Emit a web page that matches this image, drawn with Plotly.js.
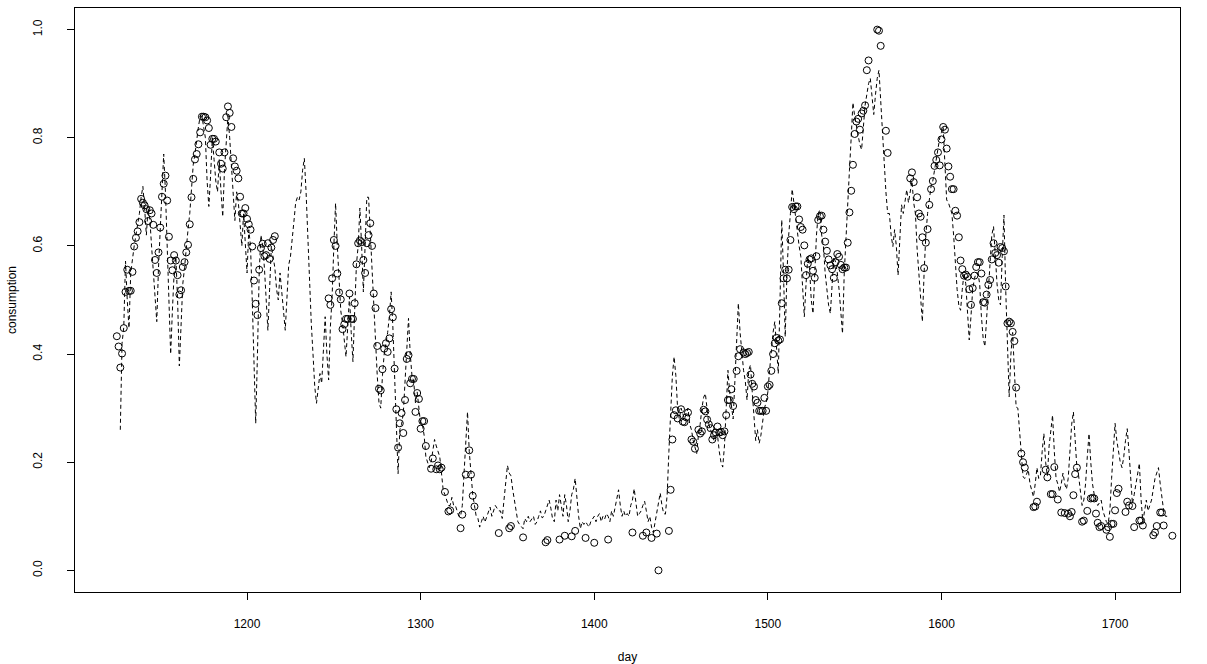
<!DOCTYPE html>
<html>
<head>
<meta charset="utf-8">
<script src="https://cdn.plot.ly/plotly-3.0.1.min.js"></script>
<style>
  html, body { margin: 0; padding: 0; background: #ffffff; }
  #chart { width: 1207px; height: 664px; }
</style>
</head>
<body>
<div id="chart"></div>
<script>
// Observed daily consumption (open circles)
const obsDay = [
  1125, 1126, 1127, 1128, 1129, 1130, 1131, 1132, 1133, 1134, 1135, 1136, 1137, 1138, 1139,
  1140, 1141, 1142, 1143, 1144, 1145, 1146, 1147, 1148, 1149, 1150, 1151, 1152, 1153, 1154,
  1155, 1156, 1157, 1158, 1159, 1160, 1161, 1162, 1163, 1164, 1165, 1166, 1167, 1168, 1169,
  1170, 1171, 1172, 1173, 1174, 1175, 1176, 1177, 1178, 1179, 1180, 1181, 1182, 1184, 1185,
  1186, 1187, 1188, 1189, 1190, 1191, 1192, 1193, 1194, 1195, 1196, 1197, 1198, 1199, 1200,
  1201, 1202, 1203, 1204, 1205, 1206, 1207, 1208, 1209, 1210, 1211, 1212, 1213, 1214, 1215,
  1216,
  1247, 1248, 1249, 1250, 1251, 1252, 1253, 1254, 1255, 1256, 1257, 1258, 1259, 1260, 1261,
  1262, 1263, 1264, 1265, 1266, 1267, 1268, 1269, 1270, 1271, 1272, 1273, 1274, 1275, 1276,
  1277, 1278, 1279, 1280, 1281, 1282, 1283, 1284, 1285, 1286, 1287, 1288, 1289, 1290, 1291,
  1292, 1293, 1294, 1295, 1296, 1297, 1298, 1299, 1300, 1301, 1302, 1303, 1306, 1307, 1309,
  1310, 1311, 1312, 1314, 1316, 1317, 1323, 1324, 1326, 1328, 1329, 1330, 1331,
  1345, 1351, 1352, 1359, 1372, 1373, 1380, 1383, 1387, 1389, 1395, 1400, 1408,
  1422, 1428, 1430, 1433, 1436, 1437, 1443, 1444, 1445, 1446, 1447, 1448, 1450, 1451, 1452,
  1453, 1454, 1456, 1457, 1458, 1460, 1461, 1462, 1463, 1464, 1465, 1466, 1467, 1468, 1469,
  1470, 1471, 1472, 1473, 1474, 1475, 1476, 1477, 1478, 1479, 1480, 1482, 1483, 1484, 1486,
  1487, 1488, 1489, 1490, 1491, 1492, 1493, 1494, 1495, 1496, 1497, 1498, 1499, 1500, 1501,
  1502, 1503, 1504, 1505, 1506, 1507, 1508, 1509, 1510, 1511, 1512, 1513, 1514, 1515, 1516,
  1517, 1518, 1519, 1520, 1521, 1522, 1523, 1524, 1525, 1526, 1527, 1528, 1529, 1530, 1531,
  1532, 1533, 1534, 1535, 1536, 1537, 1538, 1539, 1540, 1541, 1542, 1543, 1544, 1545, 1546,
  1547, 1548, 1549, 1550, 1551, 1552, 1553, 1554, 1555, 1556, 1557, 1558, 1563, 1564, 1565,
  1568, 1569,
  1582, 1583, 1584, 1586, 1587, 1588, 1589, 1590, 1591, 1592, 1593, 1594, 1595, 1596, 1597,
  1598, 1599, 1600, 1601, 1602, 1603, 1604, 1605, 1606, 1607, 1608, 1609, 1610, 1611, 1612,
  1613, 1614, 1615, 1616, 1617, 1618, 1619, 1620, 1621, 1622, 1623, 1624, 1625, 1626, 1627,
  1628, 1629, 1630, 1631, 1632, 1633, 1634, 1635, 1636, 1637, 1638, 1639, 1640, 1641, 1642,
  1643, 1646, 1647, 1648, 1653, 1654, 1655, 1660, 1661, 1663, 1664, 1665, 1667, 1669, 1671,
  1673, 1674, 1675, 1676, 1677, 1678, 1681, 1682, 1684, 1686, 1687, 1688, 1689, 1690, 1691,
  1692, 1695, 1696, 1697, 1698, 1699, 1700, 1701, 1702, 1706, 1707, 1708, 1710, 1711, 1714,
  1715, 1716, 1722, 1723, 1724, 1726, 1727, 1728, 1733
];
const obsVal = [
  0.433, 0.414, 0.375, 0.401, 0.448, 0.515, 0.556, 0.517, 0.517, 0.552, 0.599, 0.615, 0.627, 0.644, 0.687,
  0.680, 0.675, 0.668, 0.646, 0.666, 0.660, 0.639, 0.574, 0.550, 0.588, 0.634, 0.691, 0.715, 0.730, 0.684,
  0.617, 0.573, 0.555, 0.583, 0.573, 0.546, 0.510, 0.518, 0.561, 0.570, 0.588, 0.602, 0.640, 0.690, 0.724,
  0.760, 0.770, 0.788, 0.810, 0.839, 0.839, 0.838, 0.832, 0.818, 0.787, 0.798, 0.798, 0.793, 0.773, 0.752,
  0.743, 0.773, 0.838, 0.858, 0.846, 0.820, 0.762, 0.747, 0.739, 0.725, 0.691, 0.660, 0.660, 0.670, 0.650,
  0.640, 0.630, 0.599, 0.536, 0.493, 0.472, 0.556, 0.596, 0.604, 0.581, 0.583, 0.605, 0.576, 0.597, 0.611,
  0.618,
  0.503, 0.491, 0.540, 0.611, 0.600, 0.549, 0.514, 0.501, 0.446, 0.455, 0.465, 0.465, 0.512, 0.465, 0.465,
  0.494, 0.566, 0.605, 0.610, 0.607, 0.574, 0.550, 0.605, 0.620, 0.642, 0.600, 0.512, 0.485, 0.415, 0.336,
  0.333, 0.372, 0.410, 0.420, 0.404, 0.429, 0.483, 0.468, 0.373, 0.298, 0.227, 0.272, 0.291, 0.254, 0.315,
  0.391, 0.398, 0.346, 0.354, 0.354, 0.293, 0.328, 0.317, 0.262, 0.276, 0.276, 0.230, 0.188, 0.207, 0.187,
  0.194, 0.187, 0.190, 0.145, 0.109, 0.111, 0.078, 0.103, 0.177, 0.222, 0.177, 0.138, 0.118,
  0.069, 0.078, 0.082, 0.061, 0.052, 0.056, 0.057, 0.064, 0.063, 0.073, 0.060, 0.051, 0.057,
  0.070, 0.064, 0.070, 0.060, 0.068, 0.000, 0.073, 0.149, 0.242, 0.287, 0.296, 0.281, 0.298, 0.275, 0.274,
  0.283, 0.292, 0.242, 0.238, 0.225, 0.260, 0.253, 0.257, 0.297, 0.294, 0.279, 0.270, 0.263, 0.242, 0.250,
  0.255, 0.266, 0.255, 0.256, 0.250, 0.257, 0.287, 0.315, 0.315, 0.335, 0.304, 0.369, 0.396, 0.409, 0.403,
  0.400, 0.402, 0.404, 0.362, 0.345, 0.340, 0.315, 0.310, 0.295, 0.295, 0.295, 0.319, 0.295, 0.340, 0.343,
  0.369, 0.400, 0.420, 0.430, 0.425, 0.427, 0.494, 0.540, 0.556, 0.540, 0.556, 0.611, 0.672, 0.668, 0.673,
  0.673, 0.649, 0.635, 0.630, 0.601, 0.546, 0.567, 0.575, 0.577, 0.554, 0.541, 0.581, 0.648, 0.655, 0.656,
  0.630, 0.608, 0.591, 0.575, 0.564, 0.557, 0.541, 0.570, 0.585, 0.580, 0.565, 0.557, 0.560, 0.560, 0.606,
  0.662, 0.702, 0.750, 0.807, 0.830, 0.835, 0.815, 0.845, 0.850, 0.860, 0.925, 0.943, 1.000, 0.998, 0.970,
  0.813, 0.772,
  0.725, 0.736, 0.718, 0.690, 0.660, 0.654, 0.616, 0.559, 0.606, 0.631, 0.676, 0.705, 0.720, 0.748, 0.759,
  0.773, 0.749, 0.797, 0.820, 0.815, 0.780, 0.747, 0.728, 0.705, 0.705, 0.665, 0.656, 0.616, 0.573, 0.557,
  0.545, 0.547, 0.543, 0.520, 0.491, 0.522, 0.545, 0.561, 0.570, 0.570, 0.549, 0.496, 0.495, 0.510, 0.528,
  0.537, 0.575, 0.605, 0.587, 0.583, 0.569, 0.598, 0.596, 0.590, 0.525, 0.457, 0.460, 0.457, 0.441, 0.424,
  0.338, 0.216, 0.200, 0.190, 0.117, 0.118, 0.127, 0.186, 0.172, 0.141, 0.141, 0.191, 0.131, 0.107, 0.106,
  0.105, 0.100, 0.108, 0.139, 0.178, 0.190, 0.090, 0.092, 0.110, 0.133, 0.134, 0.133, 0.105, 0.088, 0.080,
  0.082, 0.075, 0.080, 0.062, 0.086, 0.086, 0.111, 0.143, 0.151, 0.108, 0.127, 0.120, 0.119, 0.080, 0.092,
  0.092, 0.083, 0.065, 0.070, 0.082, 0.107, 0.107, 0.083, 0.064
];

// Fitted daily consumption (dashed line), one value per day from fitStartDay
const fitStartDay = 1127;
const fitVal = [
  0.260, 0.420, 0.450,                                                      // 1127
  0.572, 0.500, 0.448, 0.550, 0.580, 0.600, 0.620, 0.640, 0.660, 0.690,     // 1130
  0.710, 0.670, 0.620, 0.670, 0.650, 0.600, 0.550, 0.500, 0.460, 0.560,     // 1140
  0.630, 0.700, 0.770, 0.700, 0.600, 0.500, 0.400, 0.480, 0.550, 0.580,     // 1150
  0.500, 0.378, 0.450, 0.530, 0.560, 0.600, 0.630, 0.660, 0.710, 0.750,     // 1160
  0.770, 0.800, 0.820, 0.840, 0.840, 0.820, 0.800, 0.720, 0.673, 0.730,     // 1170
  0.800, 0.760, 0.720, 0.700, 0.760, 0.700, 0.654, 0.740, 0.800, 0.840,     // 1180
  0.800, 0.750, 0.700, 0.647, 0.700, 0.680, 0.640, 0.600, 0.660, 0.600,     // 1190
  0.550, 0.630, 0.600, 0.500, 0.400, 0.272, 0.400, 0.550, 0.620, 0.600,     // 1200
  0.560, 0.500, 0.444, 0.520, 0.600, 0.580, 0.560, 0.520, 0.500, 0.550,     // 1210
  0.520, 0.480, 0.444, 0.500, 0.565, 0.580, 0.620, 0.645, 0.680, 0.690,     // 1220
  0.685, 0.700, 0.740, 0.762, 0.700, 0.610, 0.520, 0.457, 0.400, 0.340,     // 1230
  0.309, 0.340, 0.364, 0.346, 0.400, 0.469, 0.400, 0.352, 0.450, 0.506,     // 1240
  0.600, 0.679, 0.600, 0.530, 0.480, 0.457, 0.420, 0.395, 0.450, 0.506,     // 1250
  0.440, 0.386, 0.480, 0.565, 0.600, 0.670, 0.600, 0.515, 0.600, 0.690,     // 1260
  0.690, 0.620, 0.550, 0.490, 0.420, 0.360, 0.310, 0.300, 0.360, 0.400,     // 1270
  0.420, 0.440, 0.470, 0.515, 0.450, 0.350, 0.250, 0.179, 0.260, 0.270,     // 1280
  0.290, 0.350, 0.420, 0.466, 0.400, 0.360, 0.350, 0.310, 0.330, 0.300,     // 1290
  0.270, 0.270, 0.250, 0.210, 0.200, 0.190, 0.200, 0.220, 0.242, 0.230,     // 1300
  0.220, 0.210, 0.180, 0.148, 0.140, 0.130, 0.120, 0.120, 0.135, 0.120,     // 1310
  0.120, 0.110, 0.100, 0.100, 0.120, 0.180, 0.250, 0.293, 0.220, 0.170,     // 1320
  0.140, 0.120, 0.100, 0.096, 0.080, 0.090, 0.100, 0.089, 0.100, 0.110,     // 1330
  0.117, 0.100, 0.110, 0.120, 0.115, 0.110, 0.110, 0.096, 0.130, 0.170,     // 1340
  0.194, 0.180, 0.175, 0.150, 0.130, 0.110, 0.090, 0.085, 0.080, 0.077,     // 1350
  0.096, 0.090, 0.100, 0.090, 0.095, 0.100, 0.085, 0.090, 0.100, 0.110,     // 1360
  0.097, 0.100, 0.110, 0.120, 0.130, 0.115, 0.095, 0.090, 0.130, 0.110,     // 1370
  0.140, 0.120, 0.100, 0.140, 0.120, 0.090, 0.110, 0.140, 0.150, 0.170,     // 1380
  0.130, 0.100, 0.077, 0.090, 0.085, 0.090, 0.085, 0.080, 0.090, 0.095,     // 1390
  0.100, 0.090, 0.100, 0.105, 0.090, 0.100, 0.095, 0.105, 0.100, 0.090,     // 1400
  0.110, 0.100, 0.115, 0.130, 0.149, 0.120, 0.100, 0.110, 0.100, 0.105,     // 1410
  0.100, 0.120, 0.130, 0.151, 0.120, 0.100, 0.105, 0.110, 0.120, 0.128,     // 1420
  0.110, 0.090, 0.100, 0.080, 0.070, 0.090, 0.110, 0.130, 0.143, 0.120,     // 1430
  0.105, 0.104, 0.140, 0.220, 0.300, 0.360, 0.395, 0.360, 0.300, 0.280,     // 1440
  0.300, 0.290, 0.280, 0.290, 0.300, 0.270, 0.260, 0.240, 0.225, 0.216,     // 1450
  0.250, 0.270, 0.300, 0.320, 0.327, 0.300, 0.270, 0.260, 0.250, 0.240,     // 1460
  0.250, 0.250, 0.220, 0.200, 0.191, 0.230, 0.300, 0.370, 0.330, 0.300,     // 1470
  0.280, 0.350, 0.420, 0.494, 0.440, 0.400, 0.370, 0.350, 0.315, 0.370,     // 1480
  0.380, 0.330, 0.280, 0.240, 0.260, 0.235, 0.250, 0.280, 0.300, 0.310,     // 1490
  0.330, 0.370, 0.410, 0.440, 0.460, 0.400, 0.364, 0.500, 0.648, 0.550,     // 1500
  0.432, 0.550, 0.620, 0.660, 0.705, 0.680, 0.650, 0.620, 0.600, 0.580,     // 1510
  0.520, 0.469, 0.530, 0.580, 0.560, 0.500, 0.475, 0.550, 0.620, 0.660,     // 1520
  0.667, 0.620, 0.600, 0.550, 0.520, 0.490, 0.475, 0.520, 0.580, 0.570,     // 1530
  0.550, 0.520, 0.480, 0.438, 0.550, 0.620, 0.680, 0.740, 0.800, 0.865,     // 1540
  0.840, 0.820, 0.800, 0.787, 0.778, 0.820, 0.860, 0.880, 0.900, 0.910,     // 1550
  0.880, 0.843, 0.880, 0.910, 0.925, 0.870, 0.800, 0.747, 0.700, 0.660,     // 1560
  0.660, 0.620, 0.599, 0.630, 0.600, 0.546, 0.620, 0.676, 0.660, 0.680,     // 1570
  0.704, 0.680, 0.700, 0.720, 0.680, 0.660, 0.593, 0.550, 0.500, 0.460,     // 1580
  0.550, 0.620, 0.660, 0.690, 0.710, 0.720, 0.740, 0.760, 0.780, 0.800,     // 1590
  0.810, 0.820, 0.750, 0.685, 0.680, 0.670, 0.660, 0.620, 0.560, 0.520,     // 1600
  0.490, 0.481, 0.520, 0.550, 0.530, 0.470, 0.426, 0.470, 0.520, 0.540,     // 1610
  0.550, 0.550, 0.530, 0.470, 0.430, 0.414, 0.470, 0.530, 0.580, 0.620,     // 1620
  0.636, 0.580, 0.530, 0.500, 0.491, 0.580, 0.657, 0.520, 0.400, 0.321,     // 1630
  0.400, 0.440, 0.370, 0.302, 0.300, 0.260, 0.220, 0.173, 0.170, 0.180,     // 1640
  0.186, 0.160, 0.150, 0.136, 0.160, 0.190, 0.170, 0.175, 0.220, 0.253,     // 1650
  0.200, 0.175, 0.230, 0.260, 0.287, 0.220, 0.170, 0.160, 0.145, 0.160,     // 1660
  0.180, 0.160, 0.150, 0.170, 0.220, 0.270, 0.293, 0.240, 0.190, 0.175,     // 1670
  0.140, 0.120, 0.130, 0.160, 0.210, 0.253, 0.200, 0.160, 0.140, 0.130,     // 1680
  0.120, 0.125, 0.130, 0.110, 0.100, 0.090, 0.086, 0.110, 0.170, 0.230,     // 1690
  0.272, 0.240, 0.220, 0.200, 0.190, 0.210, 0.240, 0.262, 0.220, 0.170,     // 1700
  0.123, 0.140, 0.160, 0.180, 0.198, 0.130, 0.090, 0.110, 0.130, 0.110,     // 1710
  0.120, 0.130, 0.150, 0.170, 0.180, 0.190, 0.160, 0.130, 0.110, 0.100,     // 1720
  0.100                                                                     // 1730
];
const fitDay = fitVal.map((_, i) => fitStartDay + i);

// Axis ticks
const xTicks = [1200, 1300, 1400, 1500, 1600, 1700];
const yTicks = [0.0, 0.2, 0.4, 0.6, 0.8, 1.0];
const yTickText = ['0.0', '0.2', '0.4', '0.6', '0.8', '1.0'];

const baseFont = { family: 'Liberation Sans, Arial, Helvetica, sans-serif', size: 12, color: '#000000' };

const traces = [
  {
    x: fitDay, y: fitVal,
    type: 'scatter', mode: 'lines',
    line: { color: '#000000', width: 1, dash: '4px,3px' },
    hoverinfo: 'skip', showlegend: false
  },
  {
    x: obsDay, y: obsVal,
    type: 'scatter', mode: 'markers',
    marker: { symbol: 'circle-open', size: 7, color: '#000000', line: { color: '#000000', width: 1 } },
    showlegend: false
  }
];

const axisCommon = {
  showgrid: false, zeroline: false,
  showline: true, mirror: true, linecolor: '#000000', linewidth: 1,
  ticks: 'outside', ticklen: 7, tickwidth: 1, tickcolor: '#000000',
  tickfont: baseFont
};

const layout = {
  width: 1207, height: 664,
  margin: { l: 75, r: 27, t: 8, b: 72 },
  paper_bgcolor: '#ffffff', plot_bgcolor: '#ffffff',
  font: baseFont,
  showlegend: false,
  xaxis: Object.assign({}, axisCommon, {
    range: [1100.9, 1737.4],
    tickmode: 'array', tickvals: xTicks,
    ticklabelstandoff: 14,
    title: { text: 'day', font: baseFont, standoff: 22 }
  }),
  yaxis: Object.assign({}, axisCommon, {
    range: [-0.04, 1.04],
    tickmode: 'array', tickvals: yTicks, ticktext: yTickText,
    tickangle: -90,
    ticklabelstandoff: 20,
    title: { text: 'consumption', font: baseFont, standoff: 12 }
  })
};

Plotly.newPlot('chart', traces, layout, { displayModeBar: false, staticPlot: true });
</script>
</body>
</html>
